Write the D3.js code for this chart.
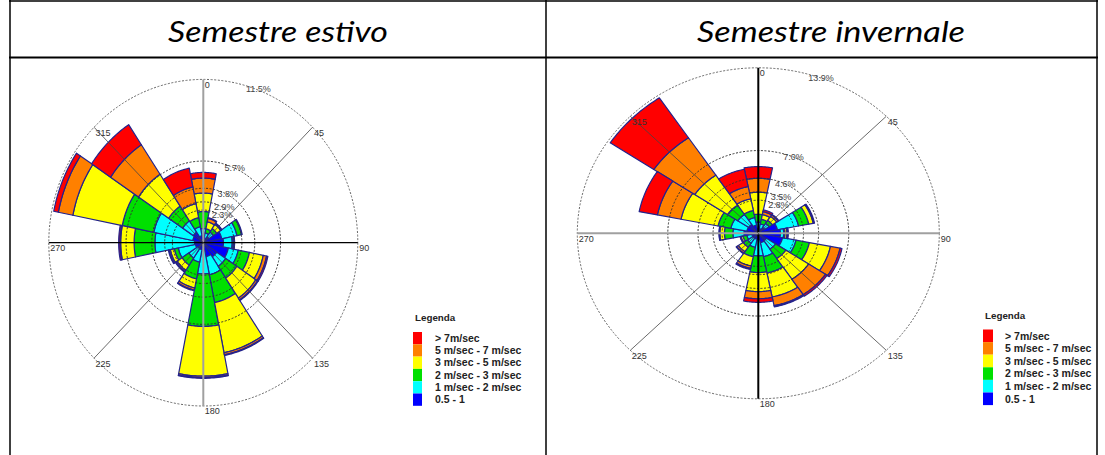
<!DOCTYPE html>
<html>
<head>
<meta charset="utf-8">
<script src="https://cdn.jsdelivr.net/npm/d3@7"></script>
<style>
  body { margin: 0; background: #fff; }
  svg { display: block; }
</style>
</head>
<body>
<svg id="chart" width="1105" height="455"></svg>
<script>
// Wind directions (degrees, clockwise from north)
const directions = [0, 22.5, 45, 67.5, 90, 112.5, 135, 157.5, 180, 202.5, 225, 247.5, 270, 292.5, 315, 337.5];
const spokeAngles = [0, 45, 90, 135, 180, 225, 270, 315];

// Speed classes, innermost first
const speedKeys = ["s05_1", "s1_2", "s2_3", "s3_5", "s5_7", "s7"];
const speedLabels = ["0.5 - 1", "1 m/sec - 2 m/sec", "2 m/sec - 3 m/sec", "3 m/sec - 5 m/sec", "5 m/sec - 7 m/sec", "> 7m/sec"];
const speedColors = ["#0000ff", "#00ffff", "#00e000", "#ffff00", "#ff8000", "#ff0000"];

// Semestre estivo: frequency (%) per direction and speed class
const estivo_s05_1 = [0.40, 0.35, 0.50, 1.40, 1.50, 1.90, 1.20, 1.00, 0.30, 0.50, 0.50, 0.60, 0.65, 0.80, 0.90, 0.50];
const estivo_s1_2  = [0.60, 0.35, 0.40, 1.15, 0.65, 0.75, 0.80, 1.30, 1.90, 0.90, 0.80, 1.30, 2.95, 2.95, 0.95, 0.65];
const estivo_s2_3  = [1.20, 0.30, 0.30, 0.35, 0.10, 0.85, 1.00, 2.00, 3.70, 1.20, 0.60, 0.30, 1.55, 2.40, 1.25, 0.65];
const estivo_s3_5  = [1.30, 0.50, 0.35, 0.05, 0.05, 1.05, 1.70, 3.60, 3.50, 0.65, 0.45, 0.30, 1.00, 3.75, 2.70, 1.00];
const estivo_s5_7  = [1.05, 0.25, 0.07, 0.00, 0.02, 0.25, 0.15, 0.15, 0.10, 0.15, 0.10, 0.10, 0.05, 1.10, 2.50, 1.20];
const estivo_s7    = [0.40, 0.05, 0.04, 0.00, 0.01, 0.10, 0.05, 0.05, 0.05, 0.05, 0.05, 0.05, 0.10, 0.35, 1.70, 1.35];
const estivoMax = 11.5;
const estivoRingLabels = ["2.3%", "2.9%", "3.8%", "5.7%", "11.5%"];

// Semestre invernale: frequency (%) per direction and speed class
const invernale_s05_1 = [0.40, 0.40, 0.60, 1.50, 1.70, 1.90, 0.75, 0.80, 0.50, 0.50, 0.50, 0.50, 1.10, 0.90, 0.90, 0.70];
const invernale_s1_2  = [0.55, 0.40, 0.40, 1.65, 0.25, 1.05, 0.85, 1.20, 1.40, 0.70, 0.50, 0.40, 0.85, 1.25, 1.00, 0.65];
const invernale_s2_3  = [0.65, 0.40, 0.30, 0.80, 0.10, 1.05, 0.95, 1.40, 1.40, 0.80, 0.40, 0.30, 0.65, 1.00, 0.95, 0.60];
const invernale_s3_5  = [1.85, 0.40, 0.40, 0.35, 0.15, 1.65, 2.10, 2.05, 1.60, 0.80, 0.45, 0.15, 0.35, 2.90, 3.02, 1.00];
const invernale_s5_7  = [1.17, 0.25, 0.15, 0.05, 0.08, 0.75, 1.55, 0.75, 0.60, 0.20, 0.15, 0.05, 0.05, 1.85, 3.78, 1.05];
const invernale_s7    = [0.98, 0.15, 0.05, 0.05, 0.02, 0.15, 0.15, 0.10, 0.30, 0.10, 0.05, 0.02, 0.02, 1.43, 4.03, 1.48];
const invernaleMax = 13.9;
const invernaleRingLabels = ["2.8%", "3.5%", "4.6%", "7.0%", "13.9%"];

const svg = d3.select("#chart");
const FONT = "'Liberation Sans', Arial, sans-serif";

// ---- table frame and headers ----
const frame = svg.append("g").attr("stroke", "#000");
frame.append("line").attr("x1", 9).attr("x2", 1098).attr("y1", 1).attr("y2", 1).attr("stroke-width", 1.5);
frame.append("line").attr("x1", 9).attr("x2", 1098).attr("y1", 57.5).attr("y2", 57.5).attr("stroke-width", 2);
[10, 546, 1097].forEach(x => {
  frame.append("line").attr("x1", x).attr("x2", x).attr("y1", 0).attr("y2", 455).attr("stroke-width", 1.5);
});

const headers = [
  { text: "Semestre estivo", x: 278, w: 220 },
  { text: "Semestre invernale", x: 831, w: 268 }
];
svg.selectAll("text.header").data(headers).join("text")
  .attr("class", "header")
  .attr("x", d => d.x).attr("y", 42)
  .attr("text-anchor", "middle")
  .attr("font-family", "Lato, 'Open Sans', sans-serif")
  .attr("font-style", "italic")
  .attr("font-size", 29)
  .attr("textLength", d => d.w)
  .attr("lengthAdjust", "spacingAndGlyphs")
  .attr("fill", "#000")
  .text(d => d.text);

function buildRows(series) {
  return directions.map((dir, i) => {
    const row = { dir };
    speedKeys.forEach((k, j) => { row[k] = series[j][i]; });
    return row;
  });
}

function drawRose(cfg) {
  const g = svg.append("g");
  const r = d3.scaleLinear().domain([0, cfg.max]).range([0, 1]);
  const ang = d3.scaleLinear().domain([0, 360]).range([0, 2 * Math.PI]);
  const pt = (v, deg) => [
    cfg.cx + r(v) * cfg.rx * Math.sin(ang(deg)),
    cfg.cy - r(v) * cfg.ry * Math.cos(ang(deg))
  ];
  const half = 360 / directions.length / 2;
  const line = d3.line();

  const segPath = (v0, v1, dir) => {
    const steps = 24;
    const a = d3.range(steps + 1).map(i => dir - half + (2 * half) * i / steps);
    const outer = a.map(d => pt(v1, d));
    const inner = v0 > 0 ? a.slice().reverse().map(d => pt(v0, d)) : [pt(0, 0)];
    return line(outer.concat(inner)) + "Z";
  };

  const stacked = d3.stack().keys(speedKeys)(buildRows(cfg.series));

  // bars
  const layers = g.append("g").selectAll("g").data(stacked).join("g")
    .attr("fill", (d, i) => speedColors[i]);
  layers.selectAll("path")
    .data(d => d.filter(s => s[1] - s[0] > 0))
    .join("path")
    .attr("d", s => segPath(s[0], s[1], s.data.dir))
    .attr("stroke", "#23238c")
    .attr("stroke-width", 1.2)
    .attr("stroke-linejoin", "round");

  // rings
  const ringVals = [5, 4, 3, 2, 1].map(n => cfg.max / n);
  g.append("g").selectAll("ellipse").data(ringVals).join("ellipse")
    .attr("cx", cfg.cx).attr("cy", cfg.cy)
    .attr("rx", v => r(v) * cfg.rx).attr("ry", v => r(v) * cfg.ry)
    .attr("fill", "none")
    .attr("stroke", (v, i) => i === 4 ? "#666" : "#333")
    .attr("stroke-width", 1)
    .attr("stroke-dasharray", "2,1.6");

  // spokes
  g.append("g").selectAll("line").data(spokeAngles).join("line")
    .attr("x1", d => pt(cfg.max, d + 180)[0]).attr("y1", d => pt(cfg.max, d + 180)[1])
    .attr("x2", d => pt(cfg.max, d)[0]).attr("y2", d => pt(cfg.max, d)[1])
    .filter(d => d < 180)
    .attr("stroke", d => d === 0 ? cfg.vStroke : d === 90 ? cfg.hStroke : "#444")
    .attr("stroke-width", d => d === 0 ? cfg.vWidth : d === 90 ? cfg.hWidth : 0.8);
  g.selectAll("line").filter(d => d >= 180).remove();

  // direction labels
  g.append("g").selectAll("text").data(spokeAngles).join("text")
    .attr("x", d => pt(cfg.max, d)[0] + 1.5)
    .attr("y", d => pt(cfg.max, d)[1] + 2)
    .attr("dominant-baseline", "hanging")
    .attr("font-family", FONT).attr("font-size", 9).attr("fill", "#333")
    .text(d => d);

  // ring labels
  g.append("g").selectAll("text").data(ringVals).join("text")
    .attr("x", v => pt(v, 16)[0])
    .attr("y", v => pt(v, 16)[1])
    .attr("dominant-baseline", "hanging")
    .attr("font-family", FONT).attr("font-size", 9).attr("fill", "#444")
    .text((v, i) => cfg.ringLabels[i]);

  // legend
  const lg = svg.append("g");
  lg.append("text").attr("x", cfg.legendX + 2).attr("y", cfg.legendY - 11)
    .attr("font-family", FONT).attr("font-size", 9.8).attr("font-weight", "bold").attr("fill", "#222")
    .text("Legenda");
  const order = d3.range(speedKeys.length).reverse();
  const rowH = cfg.legendRow;
  lg.selectAll("rect").data(order).join("rect")
    .attr("x", cfg.legendX).attr("y", (d, i) => cfg.legendY + i * rowH)
    .attr("width", cfg.legendSw).attr("height", rowH)
    .attr("fill", d => speedColors[d]);
  lg.selectAll("text.item").data(order).join("text")
    .attr("class", "item")
    .attr("x", cfg.legendX + 22).attr("y", (d, i) => cfg.legendY + i * rowH + rowH / 2 + 3.7)
    .attr("font-family", FONT).attr("font-size", 10.5).attr("font-weight", "bold").attr("fill", "#222")
    .text(d => speedLabels[d]);
}

drawRose({
  cx: 203.3, cy: 242.7, rx: 154.5, ry: 163.3, max: estivoMax,
  series: [estivo_s05_1, estivo_s1_2, estivo_s2_3, estivo_s3_5, estivo_s5_7, estivo_s7],
  ringLabels: estivoRingLabels,
  vStroke: "#a0a0a0", vWidth: 2, hStroke: "#000", hWidth: 1.3,
  legendX: 413, legendY: 332, legendRow: 12.3, legendSw: 9
});

drawRose({
  cx: 758.3, cy: 233.3, rx: 181, ry: 165.5, max: invernaleMax,
  series: [invernale_s05_1, invernale_s1_2, invernale_s2_3, invernale_s3_5, invernale_s5_7, invernale_s7],
  ringLabels: invernaleRingLabels,
  vStroke: "#000", vWidth: 2, hStroke: "#a0a0a0", hWidth: 2,
  legendX: 983, legendY: 329.5, legendRow: 12.6, legendSw: 10
});
</script>
</body>
</html>
